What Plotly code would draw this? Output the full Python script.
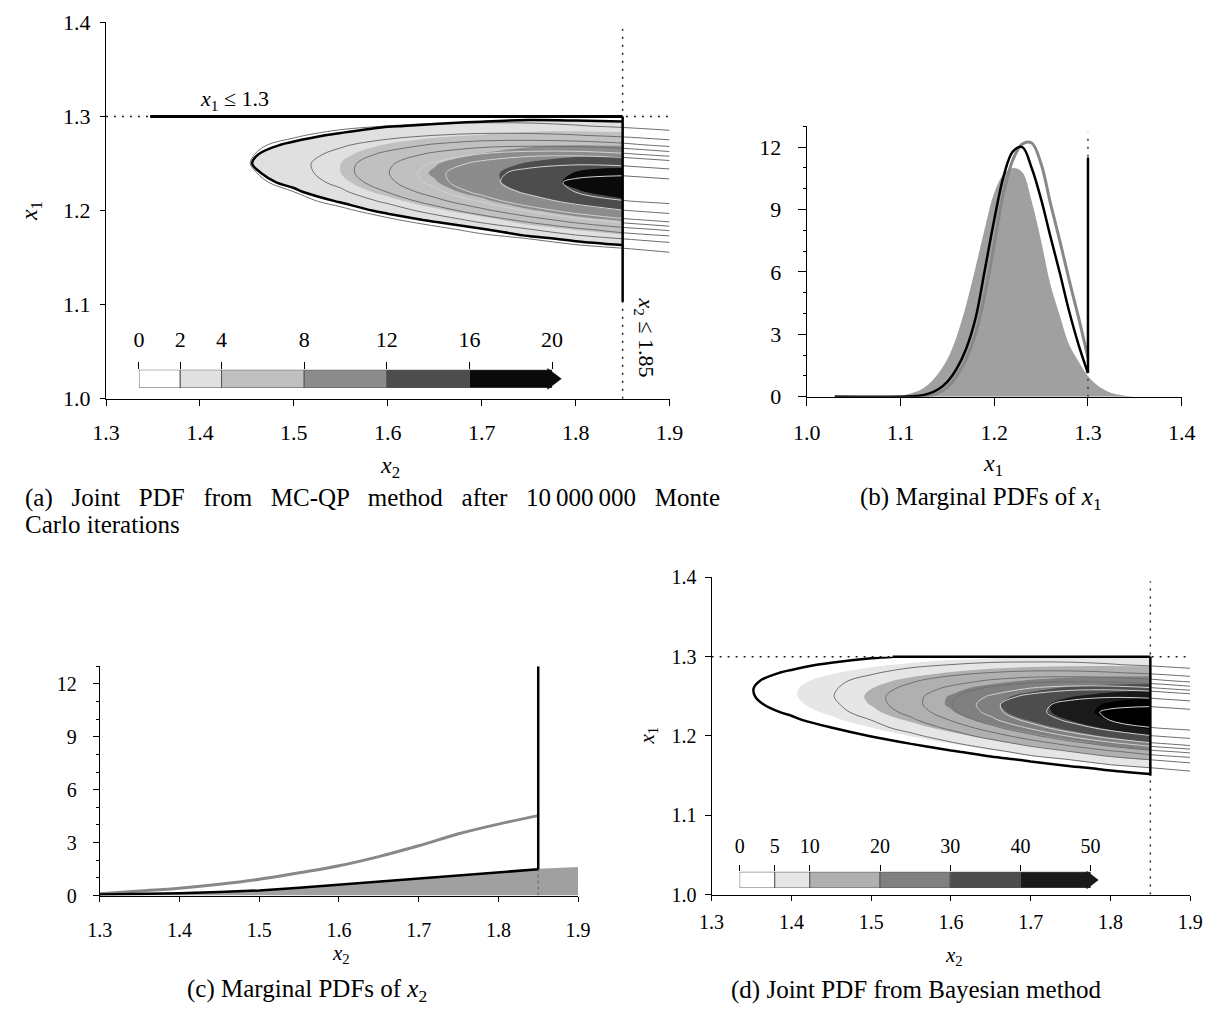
import plotly.graph_objects as go
import numpy as np

# page body has an 8px margin: the figure is placed so that reference pixel p sits at p
W, H, OFF = 1206, 1006, 8
def fx(p): return (p - OFF) / W
def fy(p): return 1 - (p - OFF) / H
SERIF = "Liberation Serif, Times New Roman, serif"

# ---------------- data ----------------
x1_limit = 1.3
x2_limit = 1.85

grid_x2 = [1.30, 1.35, 1.40, 1.45, 1.50, 1.55, 1.60, 1.65, 1.70, 1.75, 1.80, 1.85, 1.90]
grid_x1 = [1.14, 1.15, 1.16, 1.17, 1.18, 1.19, 1.20, 1.21, 1.22, 1.23, 1.24, 1.25, 1.26, 1.27, 1.28, 1.29, 1.30]

# untruncated reference joint PDF (thin contour lines), rows grid_x1, cols grid_x2
ref_pdf = [
    [0, 0, 0, 0, 0, 0, 0, 0, 0.1, 0.1, 0.2, 0.3, 0.5],
    [0, 0, 0, 0, 0, 0, 0.1, 0.1, 0.2, 0.4, 0.6, 0.9, 1.2],
    [0, 0, 0, 0, 0, 0.1, 0.2, 0.3, 0.6, 0.9, 1.4, 2.0, 2.6],
    [0, 0, 0, 0, 0.1, 0.2, 0.4, 0.7, 1.3, 2.0, 3.0, 4.0, 4.9],
    [0, 0, 0, 0.1, 0.2, 0.4, 0.9, 1.5, 2.6, 3.9, 5.5, 7.1, 8.5],
    [0, 0, 0.1, 0.2, 0.4, 0.9, 1.7, 2.9, 4.6, 6.7, 9.1, 11.3, 12.9],
    [0, 0.1, 0.2, 0.4, 0.8, 1.6, 2.9, 4.8, 7.3, 10.3, 13.3, 15.8, 17.4],
    [0, 0.1, 0.3, 0.7, 1.4, 2.6, 4.4, 7.1, 10.3, 14.0, 17.3, 19.8, 20.9],
    [0.1, 0.2, 0.5, 1.0, 2.0, 3.6, 6.1, 9.3, 13.0, 16.9, 20.1, 22.1, 22.3],
    [0.1, 0.3, 0.7, 1.4, 2.7, 4.6, 7.4, 10.8, 14.6, 18.1, 20.7, 21.9, 21.2],
    [0.2, 0.4, 0.9, 1.7, 3.1, 5.2, 7.9, 11.2, 14.5, 17.3, 19.0, 19.2, 17.9],
    [0.2, 0.5, 1.0, 1.9, 3.3, 5.2, 7.6, 10.3, 12.8, 14.7, 15.5, 15.0, 13.4],
    [0.2, 0.5, 1.0, 1.8, 3.0, 4.6, 6.5, 8.5, 10.1, 11.1, 11.2, 10.4, 9.0],
    [0.2, 0.5, 0.9, 1.6, 2.5, 3.7, 5.0, 6.2, 7.1, 7.4, 7.2, 6.5, 5.3],
    [0.2, 0.4, 0.7, 1.2, 1.8, 2.6, 3.3, 4.0, 4.4, 4.4, 4.1, 3.5, 2.8],
    [0.2, 0.3, 0.5, 0.8, 1.2, 1.6, 2.0, 2.3, 2.4, 2.4, 2.1, 1.7, 1.3],
    [0.1, 0.2, 0.3, 0.5, 0.7, 0.9, 1.1, 1.2, 1.2, 1.1, 1.0, 0.8, 0.5],
]

# joint PDF from MC-QP (cols grid_x2 up to 1.85)
mcqp_pdf = [
    [0, 0, 0, 0, 0, 0, 0, 0, 0.1, 0.1, 0.2, 0.3],
    [0, 0, 0, 0, 0, 0, 0.1, 0.1, 0.2, 0.3, 0.5, 0.7],
    [0, 0, 0, 0, 0, 0.1, 0.2, 0.3, 0.5, 0.8, 1.1, 1.5],
    [0, 0, 0, 0.1, 0.1, 0.2, 0.4, 0.6, 1.0, 1.6, 2.3, 3.0],
    [0, 0, 0.1, 0.1, 0.2, 0.4, 0.8, 1.2, 1.9, 3.0, 4.1, 5.2],
    [0, 0, 0.1, 0.3, 0.5, 0.8, 1.4, 2.2, 3.3, 5.0, 6.7, 8.3],
    [0, 0.1, 0.2, 0.5, 0.8, 1.4, 2.3, 3.6, 5.2, 7.5, 9.9, 11.9],
    [0.1, 0.1, 0.3, 0.8, 1.3, 2.1, 3.4, 5.1, 7.3, 10.3, 13.1, 15.3],
    [0.1, 0.2, 0.5, 1.1, 1.8, 2.9, 4.6, 6.7, 9.3, 12.6, 15.6, 17.7],
    [0.1, 0.3, 0.7, 1.5, 2.3, 3.6, 5.5, 7.8, 10.5, 14.0, 16.8, 18.5],
    [0.2, 0.4, 0.8, 1.7, 2.7, 4.0, 6.0, 8.3, 10.8, 13.9, 16.2, 17.4],
    [0.2, 0.4, 0.9, 1.9, 2.8, 4.0, 5.8, 7.8, 9.9, 12.4, 14.1, 14.7],
    [0.2, 0.4, 0.9, 1.8, 2.6, 3.6, 5.1, 6.7, 8.2, 10.0, 11.1, 11.2],
    [0.2, 0.4, 0.8, 1.5, 2.2, 3.0, 4.1, 5.1, 6.2, 7.3, 7.8, 7.6],
    [0.2, 0.3, 0.6, 1.2, 1.6, 2.2, 2.9, 3.6, 4.1, 4.7, 4.9, 4.7],
    [0.1, 0.2, 0.5, 0.8, 1.1, 1.4, 1.9, 2.2, 2.5, 2.8, 2.8, 2.6],
    [0.1, 0.2, 0.3, 0.5, 0.7, 0.9, 1.1, 1.2, 1.4, 1.5, 1.4, 1.3],
]

# joint PDF from the Bayesian method (cols grid_x2 up to 1.85)
bayes_pdf = [
    [0, 0, 0, 0.01, 0.02, 0.04, 0.08, 0.15, 0.26, 0.43, 0.67, 1.02],
    [0, 0.01, 0.02, 0.03, 0.06, 0.12, 0.23, 0.40, 0.67, 1.08, 1.67, 2.45],
    [0.01, 0.02, 0.04, 0.09, 0.17, 0.32, 0.57, 0.98, 1.59, 2.49, 3.72, 5.31],
    [0.03, 0.05, 0.11, 0.22, 0.42, 0.75, 1.30, 2.15, 3.40, 5.14, 7.45, 10.3],
    [0.06, 0.13, 0.26, 0.49, 0.90, 1.58, 2.64, 4.24, 6.52, 9.58, 13.5, 18.1],
    [0.13, 0.27, 0.53, 0.99, 1.75, 2.98, 4.85, 7.56, 11.3, 16.1, 21.9, 28.6],
    [0.27, 0.52, 0.99, 1.78, 3.07, 5.08, 8.02, 12.1, 17.5, 24.2, 32.1, 40.6],
    [0.47, 0.91, 1.66, 2.90, 4.86, 7.78, 11.9, 17.5, 24.5, 32.9, 42.3, 51.9],
    [0.76, 1.41, 2.50, 4.25, 6.91, 10.7, 16.0, 22.7, 30.9, 40.3, 50.2, 59.8],
    [1.10, 1.98, 3.41, 5.62, 8.85, 13.4, 19.3, 26.6, 35.1, 44.4, 53.7, 62.1],
    [1.43, 2.50, 4.18, 6.68, 10.2, 14.9, 20.9, 28.0, 35.9, 44.0, 51.7, 58.0],
    [1.68, 2.84, 4.61, 7.15, 10.6, 15.1, 20.5, 26.6, 33.1, 39.4, 44.8, 48.8],
    [1.77, 2.91, 4.58, 6.89, 9.92, 13.7, 18.0, 22.7, 27.4, 31.7, 35.0, 36.9],
    [1.68, 2.68, 4.10, 5.98, 8.36, 11.2, 14.3, 17.5, 20.5, 22.9, 24.6, 25.2],
    [1.44, 2.23, 3.30, 4.67, 6.34, 8.22, 10.2, 12.1, 13.8, 15.0, 15.5, 15.5],
    [1.11, 1.66, 2.39, 3.29, 4.33, 5.45, 6.56, 7.56, 8.33, 8.78, 8.86, 8.55],
    [0.77, 1.12, 1.56, 2.08, 2.66, 3.25, 3.80, 4.24, 4.54, 4.64, 4.55, 4.26],
]

mc_levels = [0, 2, 4, 8, 12, 16, 20]
mc_colors = ["#ffffff", "#e0e0e0", "#c0c0c0", "#8c8c8c", "#4d4d4d", "#0a0a0a"]
bayes_levels = [0, 5, 10, 20, 30, 40, 50]
bayes_colors = ["#ffffff", "#e6e6e6", "#b0b0b0", "#808080", "#4d4d4d", "#1a1a1a"]
bayes_over_color = "#000000"
ref_line_levels = [2, 4, 6, 8, 10, 12, 16, 20]
mc_outline_level = 2
bayes_outline_level = 3.0

mc_support_top_x2 = [1.347, 1.85]
mc_support_right_x1 = [1.103, 1.30]
bayes_support_top_x2 = [1.527, 1.85]
bayes_support_right_x1 = [1.15, 1.30]

# marginal PDFs of x1
b_x1 = [1.03, 1.10, 1.12, 1.13, 1.14, 1.15, 1.16, 1.17, 1.18, 1.19, 1.20, 1.21,
        1.22, 1.23, 1.24, 1.25, 1.26, 1.27, 1.28, 1.29, 1.30]
mcqp_pdf_x1 = [0, 0.0, 0.05, 0.15, 0.35, 0.72, 1.35, 2.3, 3.75, 6.1, 8.5, 10.6,
               11.8, 12.0, 11.0, 9.5, 7.7, 5.95, 4.1, 2.5, 1.14]
bayes_pdf_x1 = [0, 0.0, 0.02, 0.06, 0.18, 0.45, 1.0, 1.8, 3.0, 4.9, 7.3, 9.8,
                11.4, 12.15, 12.2, 11.2, 9.3, 7.5, 5.6, 3.8, 1.88]
prior_x1 = [1.08, 1.10, 1.11, 1.12, 1.13, 1.14, 1.15, 1.16, 1.17, 1.18, 1.19, 1.20, 1.21,
            1.22, 1.23, 1.24, 1.25, 1.26, 1.27, 1.28, 1.29, 1.30, 1.31, 1.32, 1.33, 1.34, 1.35]
prior_pdf_x1 = [0.0, 0.05, 0.15, 0.3, 0.6, 1.1, 1.8, 2.9, 4.4, 6.2, 8.1, 9.8, 10.7,
                11.0, 10.8, 9.4, 7.5, 5.4, 3.9, 2.5, 1.7, 1.0, 0.55, 0.28, 0.12, 0.05, 0.0]
mcqp_atom_top_x1 = 11.5
x1_limit_marker_top = 12.7

# marginal PDFs of x2
c_x2 = [1.30, 1.35, 1.40, 1.45, 1.50, 1.55, 1.60, 1.65, 1.70, 1.75, 1.80, 1.85]
bayes_pdf_x2 = [0.11, 0.26, 0.42, 0.64, 0.92, 1.29, 1.69, 2.21, 2.82, 3.5, 4.05, 4.53]
mcqp_pdf_x2 = [0.06, 0.09, 0.13, 0.2, 0.29, 0.44, 0.61, 0.78, 0.96, 1.14, 1.31, 1.49]
prior_x2 = [1.30, 1.35, 1.40, 1.45, 1.50, 1.55, 1.60, 1.65, 1.70, 1.75, 1.80, 1.85, 1.90]
prior_pdf_x2 = [0.05, 0.08, 0.13, 0.2, 0.3, 0.44, 0.6, 0.78, 0.97, 1.15, 1.33, 1.52, 1.62]
mcqp_atom_top_x2 = 13.0

# ---------------- figure ----------------
fig = go.Figure()
DOT = "2px,6px"

def contour_fill(z, xs, level, color, xa, ya):
    return go.Contour(x=xs, y=grid_x1, z=z, xaxis=xa, yaxis=ya, showscale=False,
                      contours=dict(type="constraint", operation="<", value=level),
                      fillcolor=color, line=dict(width=0, smoothing=1.0), hoverinfo="skip")

def contour_line(z, xs, level, color, width, xa, ya):
    return go.Contour(x=xs, y=grid_x1, z=z, xaxis=xa, yaxis=ya, showscale=False,
                      contours=dict(start=level, end=level, size=1, coloring="none"),
                      line=dict(color=color, width=width, smoothing=1.0), hoverinfo="skip")

def line(xs, ys, xa, ya, color="black", width=1.0, dash="solid", shape="linear"):
    return go.Scatter(x=xs, y=ys, xaxis=xa, yaxis=ya, mode="lines",
                      line=dict(color=color, width=width, dash=dash, shape=shape),
                      hoverinfo="skip", cliponaxis=False)

ref_left = [row[:12] for row in ref_pdf]
ref_right = [row[11:] for row in ref_pdf]

def add_ref_lines(xa, ya):
    for L in ref_line_levels:
        if L <= 8:
            fig.add_trace(contour_line(ref_pdf, grid_x2, L, "#6e6e6e", 1.0, xa, ya))
        else:
            fig.add_trace(contour_line(ref_left, grid_x2[:12], L, "#d2d2d2", 1.0, xa, ya))
            fig.add_trace(contour_line(ref_right, grid_x2[11:], L, "#6e6e6e", 1.0, xa, ya))

# (a) joint PDF, MC-QP
fig.add_trace(line([1.3, 1.9], [x1_limit, x1_limit], "x", "y", "#222", 1.5, DOT))
fig.add_trace(line([x2_limit, x2_limit], [1.0, 1.393], "x", "y", "#222", 1.5, DOT))
for L, col in zip(mc_levels[1:], mc_colors[1:]):
    fig.add_trace(contour_fill(mcqp_pdf, grid_x2[:12], L, col, "x", "y"))
add_ref_lines("x", "y")
fig.add_trace(contour_line(mcqp_pdf, grid_x2[:12], mc_outline_level, "black", 2.5, "x", "y"))
fig.add_trace(line(mc_support_top_x2, [x1_limit, x1_limit], "x", "y", "black", 3))
fig.add_trace(line([x2_limit, x2_limit], mc_support_right_x1, "x", "y", "black", 2.5))

# (a) colour key
fig.add_trace(go.Bar(x=np.diff(mc_levels), base=mc_levels[:-1], y=[0] * 6, orientation="h",
                     width=[1] * 6, marker=dict(color=mc_colors, line=dict(color="#555", width=1)),
                     xaxis="x5", yaxis="y5", hoverinfo="skip"))
fig.add_trace(go.Scatter(x=[mc_levels[-1]], y=[0], mode="markers", xaxis="x5", yaxis="y5",
                         marker=dict(symbol="triangle-right", size=19, color=mc_colors[-1]),
                         cliponaxis=False, hoverinfo="skip"))

# (b) marginal x1
fig.add_trace(go.Scatter(x=prior_x1, y=prior_pdf_x1, xaxis="x2", yaxis="y2", mode="lines",
                         fill="tozeroy", fillcolor="#a0a0a0", line=dict(width=0, shape="spline"),
                         hoverinfo="skip"))
fig.add_trace(line([x1_limit, x1_limit], [0, x1_limit_marker_top], "x2", "y2", "#333", 1.5, DOT))
fig.add_trace(line(b_x1, bayes_pdf_x1, "x2", "y2", "#888888", 3, "solid", "spline"))
fig.add_trace(line(b_x1, mcqp_pdf_x1, "x2", "y2", "black", 2.5, "solid", "spline"))
fig.add_trace(line([x1_limit, x1_limit], [mcqp_pdf_x1[-1], mcqp_atom_top_x1], "x2", "y2", "black", 2.5))

# (c) marginal x2
fig.add_trace(go.Scatter(x=prior_x2, y=prior_pdf_x2, xaxis="x3", yaxis="y3", mode="lines",
                         fill="tozeroy", fillcolor="#a0a0a0", line=dict(width=0), hoverinfo="skip"))
fig.add_trace(line(c_x2, bayes_pdf_x2, "x3", "y3", "#888888", 3, "solid", "spline"))
fig.add_trace(line([x2_limit, x2_limit], [0, mcqp_pdf_x2[-1]], "x3", "y3", "#777", 1.5, "3px,3px"))
fig.add_trace(line(c_x2, mcqp_pdf_x2, "x3", "y3", "black", 2.5))
fig.add_trace(line([x2_limit, x2_limit], [mcqp_pdf_x2[-1], mcqp_atom_top_x2], "x3", "y3", "black", 2.5))

# (d) joint PDF, Bayesian
fig.add_trace(line([1.3, 1.9], [x1_limit, x1_limit], "x4", "y4", "#222", 1.5, DOT))
fig.add_trace(line([x2_limit, x2_limit], [1.0, 1.395], "x4", "y4", "#222", 1.5, DOT))
for L, col in zip(bayes_levels[1:], bayes_colors[1:]):
    fig.add_trace(contour_fill(bayes_pdf, grid_x2[:12], L, col, "x4", "y4"))
fig.add_trace(contour_fill(bayes_pdf, grid_x2[:12], bayes_levels[-1], bayes_over_color, "x4", "y4"))
add_ref_lines("x4", "y4")
fig.add_trace(contour_line(bayes_pdf, grid_x2[:12], bayes_outline_level, "black", 2.5, "x4", "y4"))
fig.add_trace(line(bayes_support_top_x2, [x1_limit, x1_limit], "x4", "y4", "black", 2.5))
fig.add_trace(line([x2_limit, x2_limit], bayes_support_right_x1, "x4", "y4", "black", 2.5))

# (d) colour key
fig.add_trace(go.Bar(x=np.diff(bayes_levels), base=bayes_levels[:-1], y=[0] * 6, orientation="h",
                     width=[1] * 6, marker=dict(color=bayes_colors, line=dict(color="#555", width=1)),
                     xaxis="x6", yaxis="y6", hoverinfo="skip"))
fig.add_trace(go.Scatter(x=[bayes_levels[-1]], y=[0], mode="markers", xaxis="x6", yaxis="y6",
                         marker=dict(symbol="triangle-right", size=16, color=bayes_colors[-1]),
                         cliponaxis=False, hoverinfo="skip"))

# ---------------- axes ----------------
def axis(dom, rng, size, ticklen, standoff, **kw):
    d = dict(domain=dom, range=rng, showline=True, linecolor="black", linewidth=1,
             ticks="outside", ticklen=ticklen, tickwidth=1, tickcolor="black",
             showgrid=False, zeroline=False, ticklabelstandoff=standoff,
             tickfont=dict(family=SERIF, size=size, color="black"))
    d.update(kw)
    return d

j = [1.3, 1.4, 1.5, 1.6, 1.7, 1.8, 1.9]
k = [1.0, 1.1, 1.2, 1.3, 1.4]
fmt = lambda v: [f"{t:.1f}" for t in v]
minor = dict(dtick=1, ticklen=3, ticks="outside", tickcolor="black")

fig.update_layout(
    width=W, height=H, margin=dict(l=0, r=0, t=0, b=0),
    paper_bgcolor="white", plot_bgcolor="rgba(0,0,0,0)", showlegend=False,
    xaxis=axis([fx(94), fx(671)], [1.3, 1.9], 22, 6, 8, anchor="y", tickvals=j, ticktext=fmt(j)),
    yaxis=axis([fy(397), fy(11.5)], [1.0, 1.4], 22, 5, 5, anchor="x", tickvals=k, ticktext=fmt(k)),
    xaxis2=axis([fx(811.3), fx(1195.3)], [1.0, 1.4], 22, 8, 8, anchor="y2", tickvals=k, ticktext=fmt(k)),
    yaxis2=axis([fy(395), fy(118)], [0, 13], 22, 8, 12, anchor="x2", tickvals=[0, 3, 6, 9, 12], minor=minor),
    xaxis3=axis([fx(87.7), fx(577.3)], [1.3, 1.9], 20, 5, 11, anchor="y3", tickvals=j, ticktext=fmt(j)),
    yaxis3=axis([fy(906), fy(671)], [0, 13], 20, 6, 12, anchor="x3", tickvals=[0, 3, 6, 9, 12], minor=minor),
    xaxis4=axis([fx(714), fx(1204)], [1.3, 1.9], 20, 5, 4, anchor="y4", tickvals=j, ticktext=fmt(j)),
    yaxis4=axis([fy(905), fy(580)], [1.0, 1.4], 20, 6, 4, anchor="x4", tickvals=k, ticktext=fmt(k)),
    xaxis5=axis([fx(127.7), fx(550.7)], [0, 20], 22, 7, 6, anchor="y5", side="top", showline=False,
                tickvals=mc_levels),
    yaxis5=dict(domain=[fy(386), fy(367.3)], range=[-0.5, 0.5], visible=False, anchor="x5"),
    xaxis6=axis([fx(742.7), fx(1102)], [0, 50], 20, 6, 4, anchor="y6", side="top", showline=False,
                tickvals=bayes_levels),
    yaxis6=dict(domain=[fy(898.3), fy(881.7)], range=[-0.5, 0.5], visible=False, anchor="x6"),
)

def ann(text, x, y, size, angle=0, xanchor="center", data=None):
    d = dict(text=text, x=x, y=y, showarrow=False, textangle=angle, xanchor=xanchor, yanchor="middle",
             font=dict(family=SERIF, size=size, color="black"))
    if data:
        d.update(xref=data[0], yref=data[1])
    else:
        d.update(xref="paper", yref="paper")
    fig.add_annotation(**d)

X1 = "<i>x</i><sub>1</sub>"
X2 = "<i>x</i><sub>2</sub>"
ann(X2, fx(385), fy(467), 24)
ann(X1, fx(18), fy(205), 24, -90)
ann(X1, fx(1002), fy(465), 24)
ann(X2, fx(335), fy(966), 21)
ann(X2, fx(962), fy(968), 21)
ann(X1, fx(649), fy(742), 21, -90)
ann(X1 + " ≤ 1.3", 1.437, 1.318, 22, data=("x", "y"))
ann(X2 + " ≤ 1.85", 1.874, 1.065, 22, 90, data=("x", "y"))

CAP = 25
sp = " \u00a0\u00a0"
cap_a1 = sp.join(["(a)", "Joint", "PDF", "from", "MC-QP", "method", "after", "10\u2009000\u2009000", "Monte"])
ann(cap_a1, fx(9), fy(499), CAP, xanchor="left")
ann("Carlo iterations", fx(9), fy(526), CAP, xanchor="left")
ann("(b) Marginal PDFs of " + X1, fx(990), fy(499), CAP)
ann("(c) Marginal PDFs of " + X2, fx(300), fy(1003), CAP)
ann("(d) Joint PDF from Bayesian method", fx(924), fy(1003), CAP)

fig.write_html("out.html")
